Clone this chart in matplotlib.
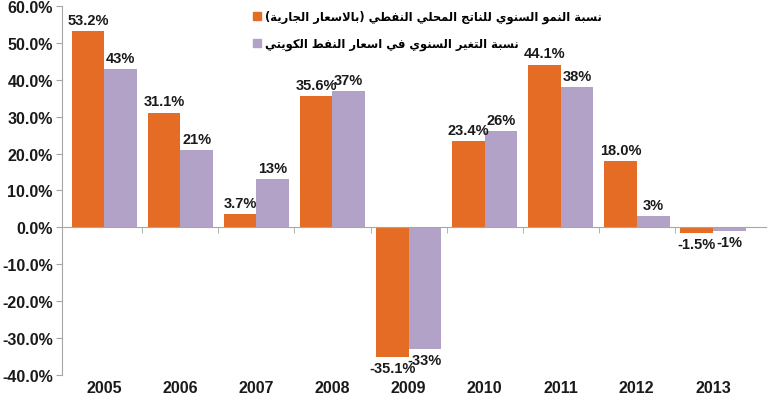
import matplotlib
matplotlib.use("Agg")
import matplotlib.pyplot as plt
from matplotlib.patches import Patch
import numpy as np

# --- data ---
years = ["2005", "2006", "2007", "2008", "2009", "2010", "2011", "2012", "2013"]
gdp_growth = [53.2, 31.1, 3.7, 35.6, -35.1, 23.4, 44.1, 18.0, -1.5]
oil_price_change = [43, 21, 13, 37, -33, 26, 38, 3, -1]
gdp_labels = ["53.2%", "31.1%", "3.7%", "35.6%", "-35.1%", "23.4%", "44.1%", "18.0%", "-1.5%"]
oil_labels = ["43%", "21%", "13%", "37%", "-33%", "26%", "38%", "3%", "-1%"]
legend_gdp = "نسبة النمو السنوي للناتج المحلي النفطي (بالاسعار الجارية)"
legend_oil = "نسبة التغير السنوي في اسعار النفط الكويتي"
y_ticks = [-40, -30, -20, -10, 0, 10, 20, 30, 40, 50, 60]

ORANGE = "#E46C25"
PURPLE = "#B3A2C7"
GREY = "#A6A6A6"

# --- minimal arabic shaping (matplotlib has no shaping / bidi) ---
FORMS = {
    "ا": ("\uFE8D", "\uFE8E", None, None),
    "ب": ("\uFE8F", "\uFE90", "\uFE91", "\uFE92"),
    "ة": ("\uFE93", "\uFE94", None, None),
    "ت": ("\uFE95", "\uFE96", "\uFE97", "\uFE98"),
    "ج": ("\uFE9D", "\uFE9E", "\uFE9F", "\uFEA0"),
    "ح": ("\uFEA1", "\uFEA2", "\uFEA3", "\uFEA4"),
    "ر": ("\uFEAD", "\uFEAE", None, None),
    "س": ("\uFEB1", "\uFEB2", "\uFEB3", "\uFEB4"),
    "ط": ("\uFEC1", "\uFEC2", "\uFEC3", "\uFEC4"),
    "ع": ("\uFEC9", "\uFECA", "\uFECB", "\uFECC"),
    "غ": ("\uFECD", "\uFECE", "\uFECF", "\uFED0"),
    "ف": ("\uFED1", "\uFED2", "\uFED3", "\uFED4"),
    "ق": ("\uFED5", "\uFED6", "\uFED7", "\uFED8"),
    "ك": ("\uFED9", "\uFEDA", "\uFEDB", "\uFEDC"),
    "ل": ("\uFEDD", "\uFEDE", "\uFEDF", "\uFEE0"),
    "م": ("\uFEE1", "\uFEE2", "\uFEE3", "\uFEE4"),
    "ن": ("\uFEE5", "\uFEE6", "\uFEE7", "\uFEE8"),
    "و": ("\uFEED", "\uFEEE", None, None),
    "ي": ("\uFEF1", "\uFEF2", "\uFEF3", "\uFEF4"),
}


def arabic(text):
    res = []
    prev_joins = False
    i = 0
    n = len(text)
    while i < n:
        c = text[i]
        if c == "ل" and i + 1 < n and text[i + 1] == "ا":
            res.append("\uFEFC" if prev_joins else "\uFEFB")
            prev_joins = False
            i += 2
            continue
        if c not in FORMS:
            res.append(c)
            prev_joins = False
            i += 1
            continue
        iso, fin, ini, med = FORMS[c]
        nxt = text[i + 1] if i + 1 < n else ""
        joins_next = ini is not None and nxt in FORMS
        if prev_joins and joins_next:
            g = med
        elif prev_joins:
            g = fin
        elif joins_next:
            g = ini
        else:
            g = iso
        res.append(g)
        prev_joins = ini is not None
        i += 1
    swap = {"(": ")", ")": "("}
    return "".join(swap.get(ch, ch) for ch in reversed(res))


plt.rcParams["font.family"] = ["Liberation Sans", "DejaVu Sans"]

fig = plt.figure(figsize=(7.7, 4.02), dpi=100)
ax = fig.add_axes([0.081, 0.0647, 0.914, 0.918])

x = np.arange(len(years))
w = 0.43
b1 = ax.bar(x - w / 2, gdp_growth, w, color=ORANGE, zorder=2)
b2 = ax.bar(x + w / 2, oil_price_change, w, color=PURPLE, zorder=2)

for bars, labels in ((b1, gdp_labels), (b2, oil_labels)):
    for rect, lab in zip(bars, labels):
        h = rect.get_height()
        cx = rect.get_x() + rect.get_width() / 2
        ax.annotate(lab, (cx, h), xytext=(0, 3 if h >= 0 else -3),
                    textcoords="offset points", ha="center",
                    va="bottom" if h >= 0 else "top",
                    fontsize=10.5, fontweight="bold", color="#1a1a1a")

ax.set_xlim(-0.55, 8.7)
ax.set_ylim(-40, 60)
ax.set_yticks(y_ticks)
ax.set_yticklabels([f"{v:.1f}%" for v in y_ticks], fontsize=11.5,
                   fontweight="bold", color="#1a1a1a")
ax.tick_params(axis="y", length=4, color=GREY, pad=3)

# zero line with small ticks between categories
ax.spines["bottom"].set_position(("data", 0))
ax.spines["bottom"].set_color(GREY)
ax.set_xticks(x)
ax.set_xticklabels([])
ax.tick_params(axis="x", which="major", length=0)
ax.set_xticks(x[:-1] + 0.5, minor=True)
ax.tick_params(axis="x", which="minor", length=4, color=GREY)
for xi, yr in zip(x, years):
    ax.text(xi, -0.033, yr, transform=ax.get_xaxis_transform(), ha="center",
            va="center", fontsize=11.5, fontweight="bold", color="#1a1a1a")

ax.spines["left"].set_color(GREY)
ax.spines["top"].set_visible(False)
ax.spines["right"].set_visible(False)

handles = [Patch(color=ORANGE), Patch(color=PURPLE)]
ax.legend(handles, [arabic(legend_gdp), arabic(legend_oil)],
          loc="upper left", bbox_to_anchor=(247 / 770, 1 - 5 / 402),
          bbox_transform=fig.transFigure, frameon=False,
          handlelength=0.75, handleheight=0.75, handletextpad=0.3,
          labelspacing=1.2, borderpad=0,
          prop={"family": "DejaVu Sans", "weight": "bold", "size": 8.3})

fig.savefig("out.png", dpi=100)
